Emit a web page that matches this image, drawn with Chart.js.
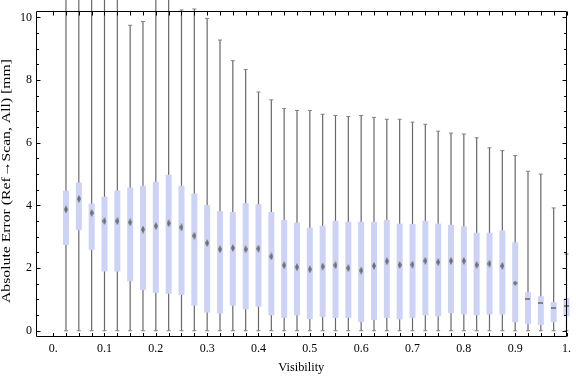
<!DOCTYPE html>
<html>
<head>
<meta charset="utf-8">
<script src="https://cdn.jsdelivr.net/npm/chart.js@4/dist/chart.umd.min.js"></script>
<style>
html,body{margin:0;padding:0;background:#fff;}
#wrap{width:576px;height:377px;position:relative;}
</style>
</head>
<body>
<div id="wrap"><canvas id="c" width="576" height="377"></canvas></div>
<script>
// ---- data ----
const visibility = [0.025,0.05,0.075,0.1,0.125,0.15,0.175,0.2,0.225,0.25,
                    0.275,0.3,0.325,0.35,0.375,0.4,0.425,0.45,0.475,0.5,
                    0.525,0.55,0.575,0.6,0.625,0.65,0.675,0.7,0.725,0.75,
                    0.775,0.8,0.825,0.85,0.875,0.9,0.925,0.95,0.975,1.0];
const whiskerLow = [0,0,0,0,0,0,0,0,0,0, 0,0,0,0,0,0,0,0,0,0,
                    0,0,0,0,0,0,0,0,0,0, 0,0,0,0,0,0,0,0,0,0];
const boxLow = [2.74,3.21,2.58,1.89,1.89,1.58,1.30,1.21,1.18,1.14,
                0.80,0.58,0.55,0.80,0.68,0.77,0.49,0.41,0.49,0.37,
                0.44,0.41,0.41,0.28,0.34,0.41,0.36,0.41,0.49,0.46,
                0.56,0.52,0.49,0.52,0.52,0.27,0.21,0.18,0.27,0.46];
const meanValue = [3.87,4.21,3.76,3.50,3.50,3.46,3.23,3.34,3.43,3.30,
                   3.03,2.80,2.60,2.64,2.60,2.62,2.37,2.09,2.03,1.96,
                   2.05,2.09,2.00,1.92,2.07,2.22,2.10,2.11,2.23,2.19,
                   2.23,2.23,2.10,2.14,2.07,1.52,1.01,0.88,0.72,0.80];
const boxHigh = [4.47,4.73,4.06,4.28,4.48,4.57,4.63,4.76,4.98,4.63,
                 4.38,4.01,3.82,3.79,4.07,4.04,3.79,3.54,3.45,3.29,
                 3.35,3.51,3.48,3.48,3.48,3.54,3.42,3.41,3.51,3.42,
                 3.38,3.33,3.13,3.13,3.20,2.82,1.23,1.10,0.92,1.04];
const whiskerHigh = [11,11,11,11,11,9.75,9.87,11,11,10.24,
                     10.27,9.97,9.28,8.62,8.34,7.62,7.37,7.09,7.03,7.03,
                     6.91,6.87,6.84,6.87,6.81,6.75,6.75,6.66,6.59,6.37,
                     6.31,6.28,6.16,5.84,5.75,5.59,5.09,5.00,3.92,2.45];
const xTickValues = [0,0.1,0.2,0.3,0.4,0.5,0.6,0.7,0.8,0.9,1.0];
const xTickLabels = ["0.","0.1","0.2","0.3","0.4","0.5","0.6","0.7","0.8","0.9","1."];
const yTickValues = [0,2,4,6,8,10];
const yTickLabels = ["0","2","4","6","8","10"];
const xTitle = "Visibility";
const yTitle = "Absolute Error (Ref\u2192Scan, All) [mm]";

// ---- styling ----
const FONT = "'Liberation Serif','Times New Roman',serif";
const BOX_COLOR = 'rgb(205,211,246)';
const WHISKER_COLOR = 'rgb(104,104,104)';
const CAP_COLOR = 'rgb(128,128,128)';
const MARK_COLOR = 'rgb(112,112,112)';

function makeDiamond(w, h) {
  const c = document.createElement('canvas');
  c.width = w; c.height = h;
  const g = c.getContext('2d');
  g.fillStyle = MARK_COLOR;
  g.beginPath();
  g.moveTo(w / 2, 0); g.lineTo(w, h / 2); g.lineTo(w / 2, h); g.lineTo(0, h / 2);
  g.closePath(); g.fill();
  return c;
}
function makeDash(w, h) {
  const c = document.createElement('canvas');
  c.width = w; c.height = h;
  const g = c.getContext('2d');
  g.fillStyle = 'rgb(130,130,130)';
  g.fillRect(0, 0, w, h);
  return c;
}
const tallDiamond = makeDiamond(4, 8);
const squatDiamond = makeDiamond(5, 5);
const dash = makeDash(5, 2);

const whiskerData = visibility.map((v, i) => ({x: v, y: [whiskerLow[i], whiskerHigh[i]]}));
const boxData = visibility.map((v, i) => ({x: v, y: [boxLow[i], boxHigh[i]]}));
const meanData = visibility.map((v, i) => ({x: v, y: meanValue[i]}));
const capData = [];
visibility.forEach((v, i) => {
  capData.push({x: v, y: whiskerLow[i]});
  if (whiskerHigh[i] <= 10.3) capData.push({x: v, y: whiskerHigh[i]});
});

// draw text stretched along its baseline to span a given length
function fitText(ctx, text, cx, cy, length, size, rotate) {
  ctx.save();
  ctx.font = size + 'px ' + FONT;
  ctx.textAlign = 'center';
  ctx.textBaseline = 'middle';
  ctx.fillStyle = '#000';
  const w = ctx.measureText(text).width;
  ctx.translate(cx, cy);
  if (rotate) ctx.rotate(-Math.PI / 2);
  ctx.scale(length / w, 1);
  ctx.fillText(text, 0, 0);
  ctx.restore();
}

const frameTicks = {
  id: 'frameTicks',
  afterDraw(chart) {
    const {ctx, chartArea: a, scales: {x, y}} = chart;
    ctx.save();
    ctx.strokeStyle = '#000';
    ctx.lineWidth = 1;
    const L = Math.round(a.left) + 0.5, R = Math.round(a.right) - 0.5;
    const T = Math.round(a.top) + 0.5, B = Math.round(a.bottom) - 0.5;
    ctx.beginPath();
    ctx.rect(L, T, R - L, B - T);
    for (let k = 0; k <= 20; k++) {
      const v = k * 0.5;
      const py = Math.round(y.getPixelForValue(v)) + 0.5;
      const len = (k % 4 === 0) ? 4 : 2.5;
      ctx.moveTo(L, py); ctx.lineTo(L + len, py);
      ctx.moveTo(R, py); ctx.lineTo(R - len, py);
    }
    const xs = [0].concat(visibility);
    xs.forEach(v => {
      const px = Math.round(x.getPixelForValue(v)) + 0.5;
      ctx.moveTo(px, B); ctx.lineTo(px, B - 3.5);
      ctx.moveTo(px, T); ctx.lineTo(px, T + 4);
    });
    ctx.stroke();
    ctx.restore();
    // axis titles
    fitText(ctx, xTitle, (a.left + a.right) / 2, 368, 46, 12, false);
    fitText(ctx, yTitle, 7, 181, 244, 13, true);
  }
};

new Chart(document.getElementById('c'), {
  type: 'bar',
  data: {
    datasets: [
      {
        type: 'scatter', label: 'mean', data: meanData, order: 0, clip: false,
        pointStyle: ctx => ctx.dataIndex >= 36 ? dash : (ctx.dataIndex === 35 ? squatDiamond : tallDiamond),
        pointRadius: 3, pointHoverRadius: 3
      },
      {
        label: 'box', data: boxData, order: 1, grouped: false, clip: false,
        backgroundColor: BOX_COLOR, borderWidth: 0, barThickness: 6, inflateAmount: 0
      },
      {
        type: 'scatter', label: 'caps', data: capData, order: 2, clip: false,
        pointStyle: 'line', pointRadius: 2, pointHoverRadius: 2,
        borderColor: CAP_COLOR, borderWidth: 1
      },
      {
        label: 'whisker', data: whiskerData, order: 3, grouped: false, clip: false,
        backgroundColor: WHISKER_COLOR, borderWidth: 0, barThickness: 1.2, inflateAmount: 0
      }
    ]
  },
  options: {
    responsive: false,
    animation: false,
    events: [],
    layout: {padding: {top: 4, right: 5, left: 0, bottom: 0}},
    plugins: {legend: {display: false}, tooltip: {enabled: false}},
    scales: {
      x: {
        type: 'linear', min: -0.0334, max: 1.0, offset: false,
        grid: {display: false, drawTicks: false, offset: false},
        border: {display: false},
        afterBuildTicks: s => { s.ticks = xTickValues.map(v => ({value: v})); },
        afterFit: s => { s.height = 40; },
        ticks: {
          autoSkip: false, maxRotation: 0, padding: 5, color: '#000',
          font: {family: FONT, size: 12},
          callback: v => { const i = xTickValues.indexOf(v); return i >= 0 ? xTickLabels[i] : ''; }
        }
      },
      y: {
        type: 'linear', min: -0.2, max: 10.2,
        grid: {display: false, drawTicks: false},
        border: {display: false},
        afterBuildTicks: s => { s.ticks = yTickValues.map(v => ({value: v})); },
        afterFit: s => { s.width = 36; },
        ticks: {
          padding: 4, color: '#000',
          font: {family: FONT, size: 12},
          callback: v => { const i = yTickValues.indexOf(v); return i >= 0 ? yTickLabels[i] : ''; }
        }
      }
    }
  },
  plugins: [frameTicks]
});
</script>
</body>
</html>
